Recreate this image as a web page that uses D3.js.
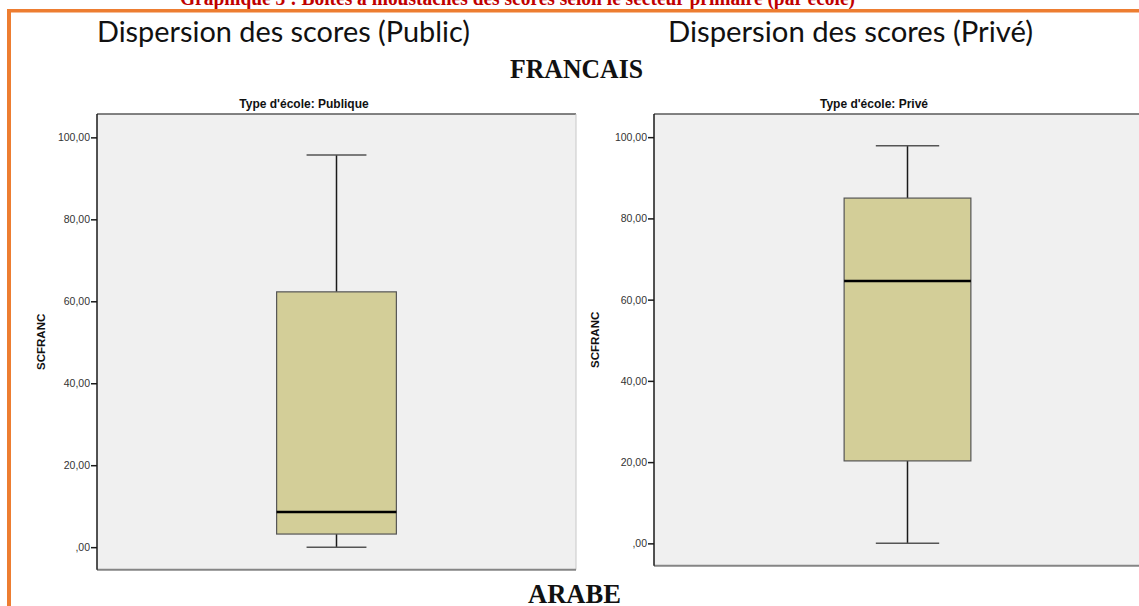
<!DOCTYPE html>
<html><head><meta charset="utf-8">
<script src="https://cdn.jsdelivr.net/npm/d3@7"></script>
<style>body{margin:0;background:#fff;overflow:hidden}svg{display:block}</style>
</head><body>
<svg id="c" width="1139" height="606"></svg>
<script>
// ---- data ----
const panelTypes = ["Publique", "Privé"];
const subtitles = ["Dispersion des scores (Public)", "Dispersion des scores (Privé)"];
const variableName = "SCFRANC";
const whiskerLow = [0, 0];
const quartile1 = [3.2, 20.3];
const medians = [8.6, 64.6];
const quartile3 = [62.3, 85.0];
const whiskerHigh = [95.7, 97.9];
const tickValues = [0, 20, 40, 60, 80, 100];
const tickLabels = [",00", "20,00", "40,00", "60,00", "80,00", "100,00"];
const yDomain = [-5.5, 105.7];

const svg = d3.select("#c");

// page decorations
svg.append("text").attr("x", 180).attr("y", 5)
  .attr("textLength", 675).attr("lengthAdjust", "spacingAndGlyphs")
  .style("font", "bold 20px 'Liberation Serif', serif").attr("fill", "#C00000")
  .text("Graphique 3 : Boîtes à moustaches des scores selon le secteur primaire (par école)");
svg.append("rect").attr("x", 7).attr("y", 9).attr("width", 1140).attr("height", 3.5).attr("fill", "#ED7D31");
svg.append("rect").attr("x", 7).attr("y", 9).attr("width", 4).attr("height", 600).attr("fill", "#ED7D31");

const subX = [[97, 373], [668, 365]];
subtitles.forEach((s, i) => {
  svg.append("text").attr("x", subX[i][0]).attr("y", 42)
    .attr("textLength", subX[i][1]).attr("lengthAdjust", "spacingAndGlyphs")
    .style("font", "28px Lato, 'Open Sans', sans-serif").attr("fill", "#111")
    .text(s);
});
svg.append("text").attr("x", 510).attr("y", 78).attr("textLength", 133).attr("lengthAdjust", "spacingAndGlyphs")
  .style("font", "bold 27px 'Liberation Serif', serif").attr("fill", "#111").text("FRANCAIS");
svg.append("text").attr("x", 528).attr("y", 603).attr("textLength", 93).attr("lengthAdjust", "spacingAndGlyphs")
  .style("font", "bold 28px 'Liberation Serif', serif").attr("fill", "#111").text("ARABE");

// panels
const panels = [
  {x: 97, y: 114, w: 479, h: 455.7, titleX: 304, labelX: 45},
  {x: 654, y: 114, w: 507, h: 451.7, titleX: 874, labelX: 599}
];

panels.forEach((p, i) => {
  const y = d3.scaleLinear().domain(yDomain).range([p.y + p.h, p.y]);
  const x = d3.scaleBand().domain([panelTypes[i]]).range([p.x, p.x + p.w]).paddingInner(0).paddingOuter(1.5);
  const g = svg.append("g");

  g.append("rect").attr("x", p.x).attr("y", p.y).attr("width", p.w).attr("height", p.h).attr("fill", "#F0F0F0");
  g.append("line").attr("x1", p.x).attr("x2", p.x + p.w).attr("y1", p.y).attr("y2", p.y).attr("stroke", "#5a5a5a").attr("stroke-width", 1.5);
  g.append("line").attr("x1", p.x + p.w).attr("x2", p.x + p.w).attr("y1", p.y).attr("y2", p.y + p.h).attr("stroke", "#c8c8c8").attr("stroke-width", 1);
  g.append("line").attr("x1", p.x).attr("x2", p.x + p.w).attr("y1", p.y + p.h).attr("y2", p.y + p.h).attr("stroke", "#858585").attr("stroke-width", 2);

  const axis = d3.axisLeft(y).tickValues(tickValues).tickFormat((d, k) => tickLabels[k]).tickSize(6).tickPadding(1);
  const ag = g.append("g").attr("transform", `translate(${p.x},0)`).call(axis);
  ag.select(".domain").attr("d", `M0,${p.y}V${p.y + p.h}`).attr("stroke", "#1a1a1a").attr("stroke-width", 1.5);
  ag.selectAll(".tick line").attr("stroke", "#1a1a1a").attr("stroke-width", 1.5);
  ag.selectAll(".tick text").style("font", "10.5px 'Liberation Sans', Arial, sans-serif").attr("fill", "#333");

  const cat = panelTypes[i];
  const bx = x(cat), bw = x.bandwidth(), cx = bx + bw / 2;
  // whiskers
  g.append("line").attr("x1", cx).attr("x2", cx).attr("y1", y(whiskerHigh[i])).attr("y2", y(quartile3[i])).attr("stroke", "#1a1a1a").attr("stroke-width", 1.5);
  g.append("line").attr("x1", cx).attr("x2", cx).attr("y1", y(quartile1[i])).attr("y2", y(whiskerLow[i])).attr("stroke", "#1a1a1a").attr("stroke-width", 1.5);
  g.append("line").attr("x1", cx - bw / 4).attr("x2", cx + bw / 4).attr("y1", y(whiskerHigh[i])).attr("y2", y(whiskerHigh[i])).attr("stroke", "#555").attr("stroke-width", 1.5);
  g.append("line").attr("x1", cx - bw / 4).attr("x2", cx + bw / 4).attr("y1", y(whiskerLow[i])).attr("y2", y(whiskerLow[i])).attr("stroke", "#555").attr("stroke-width", 1.5);
  // box
  g.append("rect").attr("x", bx).attr("y", y(quartile3[i])).attr("width", bw).attr("height", y(quartile1[i]) - y(quartile3[i]))
    .attr("fill", "#D3CE98").attr("stroke", "#555").attr("stroke-width", 1.2);
  g.append("line").attr("x1", bx).attr("x2", bx + bw).attr("y1", y(medians[i])).attr("y2", y(medians[i])).attr("stroke", "#000").attr("stroke-width", 2.5);

  // titles
  g.append("text").attr("x", p.titleX).attr("y", 108).attr("text-anchor", "middle")
    .style("font", "bold 12px 'Liberation Sans', Arial, sans-serif").attr("fill", "#111")
    .text("Type d'école: " + cat);
  g.append("text").attr("transform", `translate(${p.labelX},${p.y + p.h / 2}) rotate(-90)`).attr("text-anchor", "middle")
    .style("font", "bold 11.5px 'Liberation Sans', Arial, sans-serif").attr("fill", "#111")
    .text(variableName);
});
</script>
</body></html>
